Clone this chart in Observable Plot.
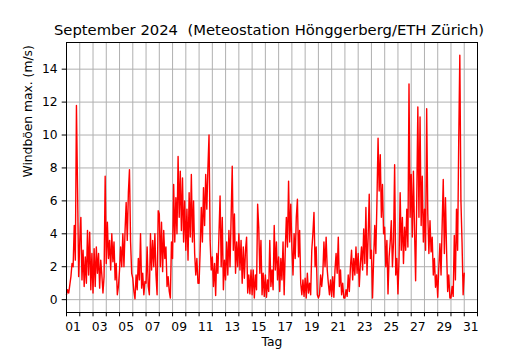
<!DOCTYPE html>
<html><head><meta charset="utf-8">
<script src="https://cdn.jsdelivr.net/npm/d3@7"></script>
<script src="https://cdn.jsdelivr.net/npm/@observablehq/plot@0.6"></script>
<style>body{margin:0;background:#fff}</style>
</head><body><div id="chart"></div>
<script>
const title = "September 2024  (Meteostation Hönggerberg/ETH Zürich)";
const yLabel = "Windböen max. (m/s)";
const xLabel = "Tag";
const dayTickLabels = ["01","03","05","07","09","11","13","15","17","19","21","23","25","27","29","31"];
const yTicks = [0, 2, 4, 6, 8, 10, 12, 14];
const readingsPerDay = 12; // one reading every 2 hours, day 1 starts at Sep 1 00:00
const gusts = [
  0.3, 0.6, 0.4, 0.9, 1.4, 2.2, 2.0, 4.5, 2.4, 11.8, 6.8, 1.4,
  3.5, 5.0, 1.2, 3.0, 0.8, 2.6, 1.0, 4.2, 1.5, 4.1, 0.6, 2.8,
  0.4, 3.1, 0.8, 3.2, 1.6, 2.8, 0.7, 2.4, 1.5, 0.4, 1.4, 7.5,
  2.2, 4.7, 2.5, 3.6, 1.8, 4.0, 2.3, 3.5, 1.2, 2.2, 0.3, 0.8,
  1.8, 3.2, 2.0, 4.0, 2.0, 4.2, 5.9, 3.6, 6.5, 7.9, 3.5, 1.6,
  1.3, 0.5, 0.05, 1.5, 0.6, 2.5, 1.2, 4.0, 0.7, 1.6, 0.3, 1.1,
  1.0, 3.2, 0.8, 0.3, 4.0, 1.8, 3.6, 2.0, 4.0, 1.5, 0.3, 5.4,
  5.2, 2.0, 4.7, 1.7, 4.2, 2.5, 3.2, 0.8, 1.4, 0.5, 0.1, 3.5,
  2.5, 7.0, 3.5, 6.2, 4.0, 8.7, 5.0, 7.8, 4.2, 7.4, 3.5, 6.0,
  3.0, 5.5, 2.4, 6.5, 3.8, 7.6, 3.5, 6.0, 2.8, 1.5, 2.5, 1.0,
  1.0, 3.0, 5.6, 3.5, 6.8, 4.5, 7.6, 5.5, 8.0, 10.0, 3.6, 1.8,
  2.6, 0.8, 2.2, 0.25, 2.8, 1.6, 4.0, 6.3, 2.0, 5.0, 0.6, 2.4,
  1.2, 3.5, 1.5, 4.2, 2.0, 5.0, 8.1, 3.0, 5.2, 1.6, 3.5, 2.0,
  4.0, 1.8, 3.6, 1.0, 3.2, 1.3, 3.0, 3.8, 0.4, 1.5, 0.35, 1.8,
  0.3, 1.8, 0.1, 1.5, 0.6, 5.8, 4.4, 1.6, 3.6, 0.3, 1.6, 0.2,
  1.5, 0.15, 1.2, 0.5, 3.6, 0.8, 1.8, 0.6, 4.5, 1.8, 3.5, 1.2,
  2.6, 0.5, 2.5, 1.2, 3.5, 0.3, 3.0, 5.0, 3.2, 7.2, 3.5, 5.8,
  3.2, 1.5, 4.0, 2.5, 5.0, 6.1, 2.6, 4.2, 1.0, 0.3, 1.2, 0.2,
  1.3, 0.1, 1.6, 0.4, 1.0, 0.3, 3.0, 4.0, 5.3, 2.0, 3.2, 0.3,
  0.1, 0.3, 1.5, 0.8, 1.6, 3.5, 2.0, 3.8, 1.8, 1.0, 0.3, 1.2,
  0.2, 1.4, 0.15, 1.8, 2.8, 1.6, 3.8, 0.8, 1.8, 0.3, 1.0, 0.1,
  0.1, 0.6, 0.2, 1.5, 0.5, 2.0, 3.0, 1.2, 2.5, 1.5, 3.2, 1.6,
  2.8, 0.8, 2.2, 3.2, 1.8, 4.3, 2.2, 5.6, 1.5, 3.8, 6.4, 2.5,
  3.0, 0.1, 2.5, 4.5, 2.8, 6.0, 9.8, 6.6, 8.8, 5.0, 7.0, 4.0,
  4.4, 2.0, 3.6, 0.35, 2.6, 3.5, 4.8, 2.0, 3.5, 8.2, 1.5, 2.5,
  0.35, 2.5, 6.5, 3.0, 5.0, 2.2, 4.4, 3.0, 5.5, 3.2, 13.1, 5.0,
  7.6, 3.8, 7.8, 4.2, 1.15, 6.0, 11.7, 5.0, 11.1, 4.5, 7.5, 3.5,
  5.5, 3.0, 11.6, 5.2, 2.8, 4.8, 2.9, 3.8, 1.5, 2.5, 0.75, 1.5,
  0.15, 2.0, 3.4, 1.5, 4.5, 7.3, 2.8, 6.2, 3.0, 0.5, 1.5, 0.1,
  0.1, 0.8, 0.2, 3.9, 1.2, 5.5, 3.0, 9.6, 14.85, 6.0, 3.5, 0.3,
  1.6
];

const data = gusts.map((v, i) => ({t: 1 + i / readingsPerDay, v}));
const labelPositions = dayTickLabels.map(s => +s + 0.5);
const labelAt = new Map(labelPositions.map((p, i) => [p, dayTickLabels[i]]));
const dayBoundaries = d3.range(2, 32);

const chart = Plot.plot({
  width: 530, height: 350,
  marginLeft: 66, marginRight: 53, marginTop: 42, marginBottom: 38,
  style: {fontFamily: "DejaVu Sans", fontSize: "12.3px", background: "white", color: "black"},
  x: {domain: [1, 32], label: null},
  y: {domain: [-0.78, 15.62], label: null},
  marks: [
    Plot.gridX(dayBoundaries, {stroke: "#b0b0b0", strokeOpacity: 1, strokeWidth: 1}),
    Plot.gridY(yTicks, {stroke: "#b0b0b0", strokeOpacity: 1, strokeWidth: 1}),
    Plot.line(data, {x: "t", y: "v", stroke: "red", strokeWidth: 1.4}),
    Plot.axisX(d3.range(1, 33), {tickSize: 4.3, tickFormat: () => "", label: null}),
    Plot.axisX(labelPositions, {tickSize: 0, tickPadding: 10, tickFormat: d => labelAt.get(d), label: null}),
    Plot.axisY(yTicks, {tickSize: 4.3, tickPadding: 4.5, label: null}),
    Plot.frame({stroke: "black", strokeWidth: 1}),
    Plot.text([title], {frameAnchor: "top", dx: -3, dy: -7.4, lineAnchor: "bottom", fontSize: 14.8}),
    Plot.text([yLabel], {frameAnchor: "left", rotate: -90, dx: -38, fontSize: 12.3}),
    Plot.text([xLabel], {frameAnchor: "bottom", dy: 33.5, fontSize: 12.3})
  ]
});
document.getElementById("chart").append(chart);
</script>
</body></html>
